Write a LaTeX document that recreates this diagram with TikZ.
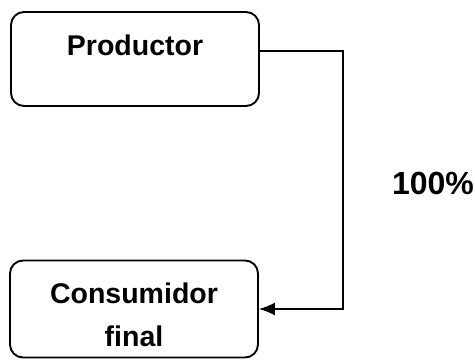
\documentclass[tikz,border=0pt]{standalone}
\usepackage{fontspec}
\setmainfont{Liberation Sans}
\usepackage{tikz}
\usetikzlibrary{arrows.meta, calc, positioning}

\begin{document}
\begin{tikzpicture}[x=1pt, y=1pt,
    box/.style={draw, line width=1.9pt, rounded corners=13pt, minimum width=248pt, align=center, font=\bfseries\fontsize{28.5}{43}\selectfont}]
                                \useasboundingbox (0, 0) rectangle (475, -360);
                                \node[box, minimum height=94pt, text depth=28pt] (prod) at (135, -59) {Productor};
                                \node[box, minimum height=97pt, text height=76pt] (cons) at (134, -309) {Consumidor\\final};
                                \node[font=\bfseries\fontsize{32}{36}\selectfont] (pct) at (433, -183) {100\%};
                                \coordinate (bend) at (343, -51);
                                \draw[line width=1.5pt, -{Latex[length=16pt, width=13pt]}]
                                ($(prod.east)+(0, 8)$) -- (bend) |- (cons.east);
                            \end{tikzpicture}
\end{document}
